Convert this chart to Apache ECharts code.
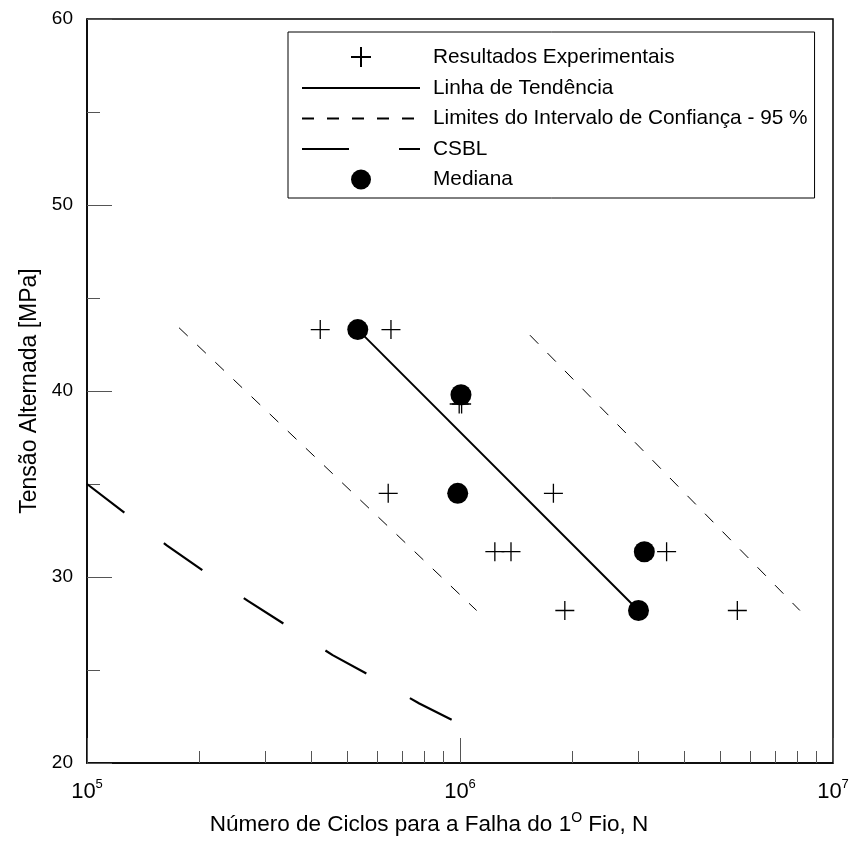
<!DOCTYPE html>
<html><head><meta charset="utf-8">
<script src="https://cdn.jsdelivr.net/npm/echarts@6/dist/echarts.min.js"></script>
<style>html,body{margin:0;padding:0;background:#fff}#c{width:853px;height:842px}</style>
</head><body><div id="c"></div>
<script>
// Experimental results (N cycles, stress MPa)
const experimentalN = [4.22e5, 6.53e5, 9.95e5, 1.01e6, 6.42e5, 1.78e6, 1.24e6, 1.37e6, 3.58e6, 1.91e6, 5.54e6];
const experimentalS = [43.3, 43.3, 39.3, 39.3, 34.5, 34.5, 31.36, 31.36, 31.36, 28.2, 28.2];
// Medians
const medianN = [5.32e5, 1.006e6, 9.86e5, 3.12e6, 3.01e6];
const medianS = [43.3, 39.8, 34.5, 31.36, 28.2];
// Trend line
const trendN = [5.32e5, 3.01e6];
const trendS = [43.3, 28.2];
// 95% confidence limits
const lowerCIN = [1.765e5, 1.108e6];
const lowerCIS = [43.4, 28.2];
const upperCIN = [1.54e6, 8.15e6];
const upperCIS = [43.0, 28.2];
// CSBL curve
const csblN = [1.0e5, 1.272e5, 1.636e5, 2.094e5, 2.707e5, 3.486e5, 4.556e5, 5.92e5, 7.78e5, 1.0e6];
const csblS = [35.0, 33.4, 31.7, 30.2, 28.7, 27.3, 25.8, 24.55, 23.2, 22.1];
// Axis ticks
const yTicks = [20, 30, 40, 50, 60];
const xMinorTicks = [2e5,3e5,4e5,5e5,6e5,7e5,8e5,9e5,2e6,3e6,4e6,5e6,6e6,7e6,8e6,9e6];

const zip = (a, b) => a.map((v, i) => [v, b[i]]);
const F = "'Liberation Sans', Arial, sans-serif";
const plus = 'path://M0,10L20,10M10,0L10,20';
const tickColor = '#555';
const noSym = {opacity: 0};

const chart = echarts.init(document.getElementById('c'), null, {renderer: 'canvas'});
chart.setOption({
  animation: false,
  backgroundColor: '#fff',
  grid: {left: 87, right: 20, top: 19, bottom: 79, show: true, borderColor: '#000', borderWidth: 1.5,
    backgroundColor: 'transparent', containLabel: false, outerBoundsMode: 'none'},
  legend: {
    orient: 'vertical', left: 288, top: 32,
    itemWidth: 118, itemHeight: 20, itemGap: 9.5,
    padding: [14, 7, 8, 13],
    borderColor: '#000', borderWidth: 1,
    selectedMode: false,
    textStyle: {fontSize: 20.8, color: '#000', fontFamily: F, padding: [0, 0, 0, 8]},
    data: [
      {name: 'Resultados Experimentais'},
      {name: 'Linha de Tendência', itemStyle: noSym},
      {name: 'Limites do Intervalo de Confiança - 95 %', itemStyle: noSym},
      {name: 'CSBL', itemStyle: noSym},
      {name: 'Mediana'}
    ]
  },
  xAxis: [{
    type: 'log', logBase: 10, min: 1e5, max: 1e7, position: 'bottom',
    axisLine: {lineStyle: {color: '#000', width: 1.5}},
    axisTick: {inside: true, length: 25, lineStyle: {color: tickColor, width: 1}},
    splitLine: {show: false}, minorTick: {show: false}, minorSplitLine: {show: false},
    axisLabel: {
      margin: 15,
      formatter: v => '{b|10}{s|' + Math.round(Math.log10(v)) + '}',
      rich: {
        b: {fontSize: 22, fontFamily: F, color: '#000'},
        s: {fontSize: 13, fontFamily: F, color: '#000', padding: [0, 0, 14, 0]}
      }
    },
    name: '{a|Número de Ciclos para a Falha do 1}{s|O}{a| Fio, N}',
    nameLocation: 'middle', nameGap: 48, nameMoveOverlap: false,
    nameTextStyle: {
      padding: [0, 62, 0, 0],
      rich: {
        a: {fontSize: 22.5, lineHeight: 28, fontFamily: F, color: '#000'},
        s: {fontSize: 14, lineHeight: 14, fontFamily: F, color: '#000', padding: [0, 0, 13, 0]}
      }
    }
  }, {
    type: 'log', logBase: 10, min: 1e5, max: 1e7, position: 'bottom', gridIndex: 0,
    axisLine: {show: false}, axisLabel: {show: false}, splitLine: {show: false},
    axisTick: {inside: true, length: 12, customValues: xMinorTicks, lineStyle: {color: tickColor, width: 1}}
  }],
  yAxis: {
    type: 'value', min: 20, max: 60, interval: 10,
    axisLine: {show: true, lineStyle: {color: '#000', width: 1.5}},
    axisTick: {show: true, inside: true, length: 25, lineStyle: {color: tickColor, width: 1}},
    minorTick: {show: true, splitNumber: 2, length: 13, lineStyle: {color: tickColor, width: 1}},
    splitLine: {show: false},
    axisLabel: {fontSize: 19, color: '#000', fontFamily: F, margin: 14, customValues: yTicks},
    name: 'Tensão Alternada [MPa]', nameLocation: 'middle', nameGap: 46, nameMoveOverlap: false,
    nameTextStyle: {fontSize: 23, fontFamily: F, color: '#000'}
  },
  series: [
    {name: 'Limites do Intervalo de Confiança - 95 %', type: 'line', symbol: 'none', data: zip(lowerCIN, lowerCIS),
      itemStyle: {color: '#000'}, lineStyle: {color: '#000', width: 1, type: [12, 13]}, z: 2},
    {name: 'Limites do Intervalo de Confiança - 95 %', type: 'line', symbol: 'none', data: zip(upperCIN, upperCIS),
      itemStyle: {color: '#000'}, lineStyle: {color: '#000', width: 1, type: [12, 13]}, z: 2},
    {name: 'CSBL', type: 'line', symbol: 'none', data: zip(csblN, csblS),
      itemStyle: {color: '#000'}, lineStyle: {color: '#000', width: 2.2, type: [47, 50]}, z: 2},
    {name: 'Linha de Tendência', type: 'line', symbol: 'none', data: zip(trendN, trendS),
      itemStyle: {color: '#000'}, lineStyle: {color: '#000', width: 2}, z: 3},
    {name: 'Resultados Experimentais', type: 'scatter', symbol: plus, symbolSize: 19, data: zip(experimentalN, experimentalS),
      itemStyle: {color: '#000', borderColor: '#000', borderWidth: 1.3, opacity: 1}, z: 4},
    {name: 'Mediana', type: 'scatter', symbol: 'circle', symbolSize: 21, data: zip(medianN, medianS),
      itemStyle: {color: '#000', opacity: 1}, z: 5}
  ]
});
</script>
</body></html>
